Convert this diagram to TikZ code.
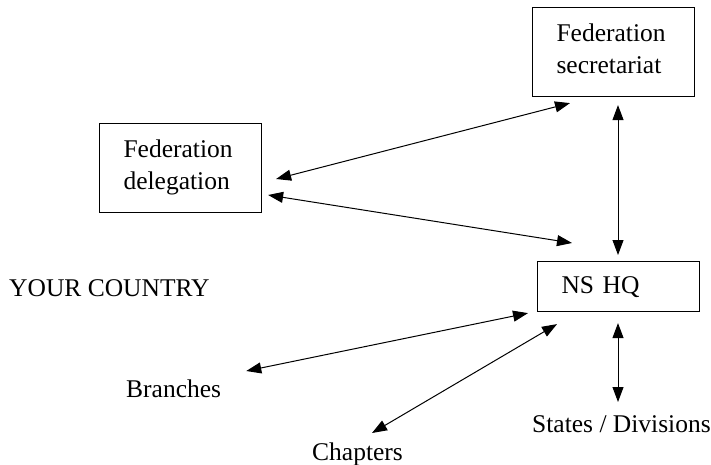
\documentclass[tikz,border=0pt]{standalone}
\usepackage{fontspec}
\setmainfont{Liberation Serif}
\usetikzlibrary{arrows.meta,calc}
\tikzset{
  every node/.style={font=\fontsize{25.5}{32}\selectfont, inner sep=0pt},
  orgbox/.style={draw, line width=1.1pt, anchor=north west, inner xsep=24pt, inner ysep=0pt,
    text width=114pt, align=left},
  twoline/.style={text height=34pt, text depth=55pt},
  oneline/.style={text height=32pt, text depth=18pt},
  lbl/.style={anchor=base west},
  link/.style={line width=1pt, {Triangle[length=15pt,width=11pt]}-{Triangle[length=15pt,width=11pt]}}
}
\begin{document}
\begin{tikzpicture}[x=1pt,y=-1pt]
\useasboundingbox (0,0) rectangle (711,465);
\node[orgbox,twoline] (sec) at (532,7) {Federation\\secretariat};
\node[orgbox,twoline] (del) at (99,123) {Federation\\delegation};
\node[orgbox,oneline] (hq) at (537,261) {NS HQ};
\node[lbl] (yc) at (9,296) {YOUR COUNTRY};
\node[lbl] (br) at (126,397) {Branches};
\node[lbl] (ch) at (312,460) {Chapters};
\node[lbl] (st) at (532,432) {States / Divisions};

\draw[link] ($(del.north east)+(14,56)$) -- ($(sec.south west)+(38,6)$);
\draw[link] ($(del.north east)+(6,72)$) -- ($(hq.north west)+(35,-18)$);
\draw[link] ($(sec.south west)+(86,8)$) -- ($(hq.north west)+(81,-6)$);
\draw[link] ($(br.base east)+(25,-26)$) -- ($(hq.south west)+(-9,1)$);
\draw[link] ($(ch.base west)+(60,-27)$) -- ($(hq.south west)+(20,12)$);
\draw[link] ($(hq.south west)+(81,11)$) -- ($(st.base west)+(86,-30)$);
\end{tikzpicture}
\end{document}
